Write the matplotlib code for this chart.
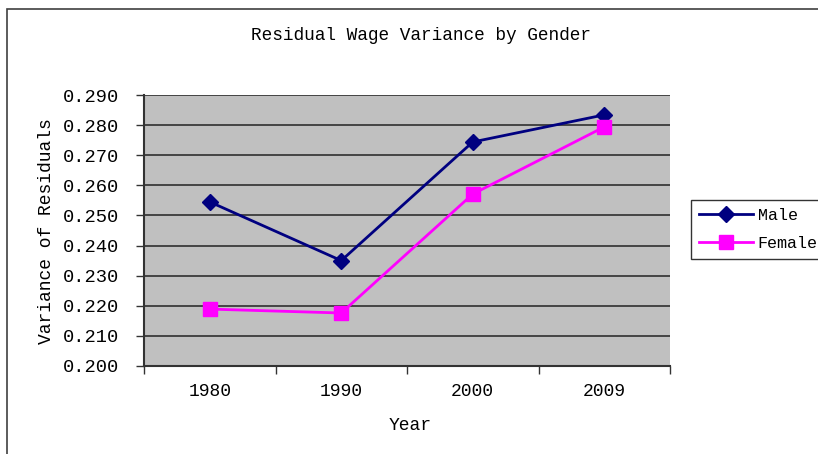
import matplotlib
matplotlib.use("Agg")
import matplotlib.pyplot as plt
from matplotlib.patches import Rectangle
from matplotlib.ticker import FixedLocator, FuncFormatter

years = ["1980", "1990", "2000", "2009"]
male = [0.2545, 0.2350, 0.2744, 0.2834]
female = [0.2189, 0.2176, 0.2571, 0.2794]
yticks = [0.20, 0.21, 0.22, 0.23, 0.24, 0.25, 0.26, 0.27, 0.28, 0.29]

FONT = "Liberation Mono"
plt.rcParams["font.family"] = [FONT, "DejaVu Sans Mono"]

W, H = 818, 454
fig = plt.figure(figsize=(W / 100, H / 100), dpi=100)
fig.patch.set_facecolor("white")

# outer chart border
fig.add_artist(Rectangle((7 / W, -0.1), 1.2, 1 - 9 / H + 0.1, transform=fig.transFigure,
                         fill=False, edgecolor="#404040", linewidth=1.2))

ax = fig.add_axes([144 / W, 1 - 366 / H, (670 - 144) / W, (366 - 95) / H])
ax.set_facecolor("#C0C0C0")

x = list(range(len(years)))
ax.plot(x, male, color="#000080", lw=2, marker="D", markersize=8.5, label="Male", zorder=3)
ax.plot(x, female, color="#FF00FF", lw=2, marker="s", markersize=10, label="Female", zorder=3)

ax.set_xlim(-0.5, len(years) - 0.5)
ax.set_ylim(0.20, 0.29)
ax.yaxis.set_major_locator(FixedLocator(yticks))
ax.yaxis.set_major_formatter(FuncFormatter(lambda v, p: f"{v:.3f}"))
ax.grid(axis="y", color="#000000", lw=1.2, alpha=0.75)
ax.set_axisbelow(True)

ax.set_xticks([i + 0.5 for i in range(-1, len(years))])
ax.set_xticklabels([])
ax.set_xticks(x, minor=True)
ax.set_xticklabels(years, minor=True, fontsize=13)
ax.tick_params(axis="x", which="minor", length=0, pad=12)
ax.tick_params(axis="x", which="major", length=6, width=1, color="#333333", direction="out")
ax.tick_params(axis="y", length=6, width=1, color="#333333", labelsize=13.5, pad=12)

for s in ["top", "right"]:
    ax.spines[s].set_visible(False)
for s in ["left", "bottom"]:
    ax.spines[s].set_color("#333333")
    ax.spines[s].set_linewidth(1.5)

fig.text(421 / W, 1 - 36 / H, "Residual Wage Variance by Gender", ha="center", va="center",
         fontsize=12.8)
fig.text(410 / W, 1 - 426 / H, "Year", ha="center", va="center", fontsize=13)
fig.text(47 / W, 1 - 231 / H, "Variance of Residuals", ha="center", va="center",
         rotation=90, fontsize=13)

leg = fig.legend(loc="upper left", bbox_to_anchor=(691 / W, 1 - 200 / H), fontsize=12,
                 frameon=True, fancybox=False, edgecolor="#000000", borderpad=0.5,
                 handlelength=3.2, handletextpad=0.3, labelspacing=0.75, borderaxespad=0)
leg.get_frame().set_linewidth(1)

fig.savefig("out.png", dpi=100)
